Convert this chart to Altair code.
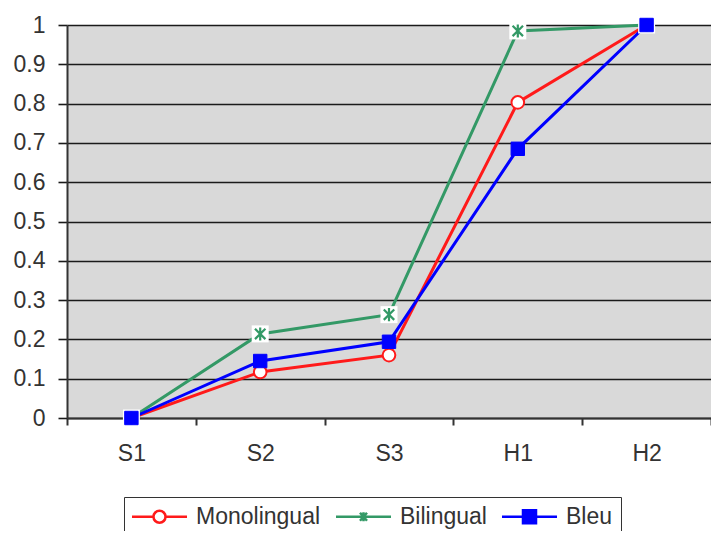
import altair as alt
import pandas as pd

cats = ["S1", "S2", "S3", "H1", "H2"]
series = ["Monolingual", "Bilingual", "Bleu"]
monolingual = [0.0, 0.117, 0.16, 0.803, 1.0]
bilingual = [0.0, 0.214, 0.263, 0.985, 1.0]
bleu = [0.0, 0.145, 0.194, 0.685, 1.0]
y_ticks = [0, 0.1, 0.2, 0.3, 0.4, 0.5, 0.6, 0.7, 0.8, 0.9, 1]

colors = ["#ff1a1a", "#339966", "#0000ff"]
fills = ["#ffffff", "#ffffff", "#0000ff"]

rows = []
for name, vals in zip(series, [monolingual, bilingual, bleu]):
    for i, (c, v) in enumerate(zip(cats, vals)):
        rows.append({"cat": c, "idx": i, "series": name, "value": v})
df = pd.DataFrame(rows)

FONT = "Liberation Sans"
FS = 23

x_enc = alt.X(
    "cat:N", sort=cats,
    scale=alt.Scale(type="band", paddingInner=0, paddingOuter=0),
    axis=alt.Axis(title=None, labelAngle=0, tickBand="extent", grid=False,
                  tickSize=7, tickWidth=2, tickColor="#333333",
                  domainColor="#333333", domainWidth=2,
                  labelFontSize=FS, labelFont=FONT, labelColor="#333333",
                  labelPadding=17),
)
y_enc = alt.Y(
    "value:Q",
    scale=alt.Scale(domain=[0, 1], nice=False, zero=True),
    axis=alt.Axis(title=None, values=y_ticks, format="~g", grid=True,
                  gridColor="#1a1a1a", gridWidth=1.6,
                  tickSize=9, tickWidth=1.6, tickColor="#1a1a1a",
                  domainColor="#333333", domainWidth=2,
                  labelFontSize=FS, labelFont=FONT, labelColor="#333333",
                  labelPadding=13),
)

stroke_scale = alt.Scale(domain=series, range=colors)
fill_scale = alt.Scale(domain=series, range=fills)

# legend symbols: unit = 7px (symbolSize 196), line spans +-27.5px
legend_paths = [
    "M-3.93,0H-0.86M0.86,0H3.93M0.86,0A0.86,0.86 0 1 1 -0.86,0A0.86,0.86 0 1 1 0.86,0Z",
    "M-3.93,0H3.93M-0.5,-0.57L0.5,0.57M-0.5,0.57L0.5,-0.57M0,-0.64V0.64",
    "M-3.93,0H3.93M-0.93,-0.93H0.93V0.93H-0.93Z",
]

leg = alt.Legend(
    title=None, orient="none", legendX=57, legendY=472, direction="horizontal",
    symbolSize=196, symbolStrokeWidth=2.5, symbolOffset=16,
    labelFontSize=FS, labelFont=FONT, labelColor="#333333",
    labelOffset=25, columnPadding=9, padding=8,
    strokeColor="#333333", fillColor="#ffffff", symbolOpacity=1,
)

legend_layer = alt.Chart(df).transform_filter("false").mark_point(
    filled=True, strokeWidth=2.5, opacity=1
).encode(
    stroke=alt.Stroke("series:N", scale=stroke_scale, legend=leg),
    fill=alt.Fill("series:N", scale=fill_scale, legend=leg),
    shape=alt.Shape("series:N", scale=alt.Scale(domain=series, range=legend_paths), legend=leg),
)

base = alt.Chart(df).encode(x=x_enc, y=y_enc)

lines = base.mark_line(strokeWidth=3).encode(
    stroke=alt.Stroke("series:N", scale=stroke_scale, legend=leg),
    detail="series:N",
    order="idx:Q",
)

mono_pts = base.transform_filter(alt.datum.series == "Monolingual").mark_point(
    shape="circle", size=160, filled=True, fill="#ffffff", stroke=colors[0], strokeWidth=2, opacity=1
)
bi_box = base.transform_filter(alt.datum.series == "Bilingual").mark_point(
    shape="square", size=289, filled=True, fill="#ffffff", strokeWidth=0, opacity=1
)
bi_pts = base.transform_filter(alt.datum.series == "Bilingual").mark_point(
    shape="M-0.8,-0.8L0.8,0.8M-0.8,0.8L0.8,-0.8M0,-1V1", size=170, filled=False,
    stroke=colors[1], strokeWidth=2.2, opacity=1
)
bleu_pts = base.transform_filter(alt.datum.series == "Bleu").mark_point(
    shape="square", size=180, filled=True, fill=colors[2], stroke=colors[2], strokeWidth=1, opacity=1
)

chart = alt.layer(legend_layer, lines, mono_pts, bi_box, bi_pts, bleu_pts).properties(
    width=644, height=393,
    autosize=alt.AutoSizeParams(type="none"),
    padding={"left": 59, "top": 17, "right": 0, "bottom": 113},
    background="#ffffff",
    view=alt.ViewBackground(fill="#d9d9d9", strokeWidth=0),
)

chart.save("out.html", embed_options={"renderer": "svg", "actions": False})
